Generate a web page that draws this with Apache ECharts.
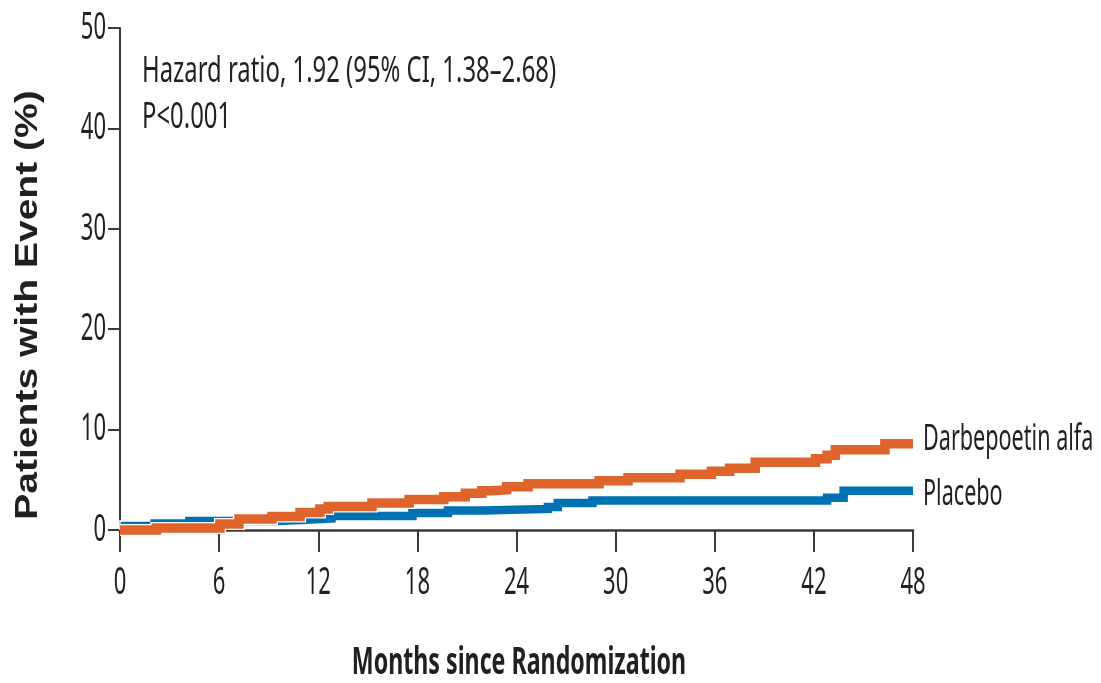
<!DOCTYPE html>
<html>
<head>
<meta charset="utf-8">
<script src="https://cdn.jsdelivr.net/npm/echarts@6/dist/echarts.min.js"></script>
<style>
  html, body { margin: 0; padding: 0; background: #ffffff; }
  #chart { width: 1101px; height: 683px; }
</style>
</head>
<body>
<div id="chart"></div>
<script>
// Axis ticks
const monthTicks = [0, 6, 12, 18, 24, 30, 36, 42, 48];
const percentTicks = [0, 10, 20, 30, 40, 50];

// Cumulative incidence (%) at each event time, step curves
const darbeMonths = [0, 2.2, 6.05, 7.2, 9.2, 10.9, 12.1, 12.6, 15.25, 17.5, 19.6, 20.9, 21.9, 22.5, 23.4, 24.7, 29.0, 30.75, 33.9, 35.8, 36.9, 38.45, 42.1, 42.8, 43.3, 46.3, 48];
const darbePct    = [0, 0.2, 0.6, 1.1, 1.35, 1.75, 2.1, 2.35, 2.7, 3.05, 3.3, 3.65, 3.9, 4.0, 4.3, 4.6, 4.9, 5.2, 5.55, 5.85, 6.15, 6.75, 7.1, 7.45, 8.0, 8.6, 8.6];

const placeboMonths = [0, 0.3, 2.1, 4.2, 9.4, 11.0, 12.8, 17.7, 19.85, 22.0, 25.9, 26.5, 28.6, 42.8, 43.8, 48];
const placeboPct    = [0, 0.4, 0.65, 0.9, 1.0, 1.15, 1.4, 1.7, 1.95, 2.1, 2.3, 2.7, 2.95, 3.2, 3.9, 3.9];

const seriesNames = ['Darbepoetin alfa', 'Placebo'];
const statLines = ['Hazard ratio, 1.92 (95% CI, 1.38\u20132.68)', 'P<0.001'];
const xTitle = 'Months since Randomization';
const yTitle = 'Patients with Event (%)';

const ORANGE = '#DF642B';
const BLUE = '#0071B3';
const AXIS = '#3a3a3a';
const TEXT = '#231f20';
const SANS = "'Noto Sans', 'Liberation Sans', sans-serif";

const pairs = (xs, ys) => xs.map((x, i) => [x, ys[i]]);
const darbeData = pairs(darbeMonths, darbePct);
const placeboData = pairs(placeboMonths, placeboPct);

function stepSeries(name, data, color, width, z, silent) {
  return {
    name: name,
    type: 'line',
    step: 'end',
    data: data,
    showSymbol: false,
    symbol: 'none',
    silent: !!silent,
    z: z,
    animation: false,
    clip: false,
    lineStyle: { color: color, width: width, cap: 'butt', join: 'miter' }
  };
}

const chart = echarts.init(document.getElementById('chart'), null, { renderer: 'canvas' });

chart.setOption({
  backgroundColor: '#ffffff',
  animation: false,
  grid: { left: 120, right: 188, top: 28, bottom: 153, containLabel: false },
  xAxis: {
    type: 'value',
    min: monthTicks[0],
    max: monthTicks[monthTicks.length - 1],
    interval: monthTicks[1] - monthTicks[0],
    splitLine: { show: false },
    axisLine: { show: true, onZero: false, lineStyle: { color: AXIS, width: 2.5 } },
    axisTick: { show: true, inside: false, length: 22, lineStyle: { color: AXIS, width: 2 } },
    axisLabel: { show: false }
  },
  yAxis: {
    type: 'value',
    min: percentTicks[0],
    max: percentTicks[percentTicks.length - 1],
    interval: percentTicks[1] - percentTicks[0],
    splitLine: { show: false },
    axisLine: { show: true, onZero: false, lineStyle: { color: AXIS, width: 2 } },
    axisTick: { show: true, inside: false, length: 12, lineStyle: { color: AXIS, width: 2 } },
    axisLabel: { show: false }
  },
  series: [
    stepSeries('placebo-halo', placeboData, '#ffffff', 11.5, 2, true),
    stepSeries(seriesNames[1], placeboData, BLUE, 8.5, 3),
    stepSeries('darbe-halo', darbeData, '#ffffff', 12, 4, true),
    stepSeries(seriesNames[0], darbeData, ORANGE, 9.5, 5)
  ]
});

// Condensed text, placed in pixel space
function label(text, x, y, o) {
  return {
    type: 'text',
    x: x,
    y: y,
    scaleX: o.scaleX || 1,
    scaleY: o.scaleY || 1,
    rotation: o.rotation || 0,
    silent: true,
    z: 10,
    style: {
      text: text,
      fill: o.color || TEXT,
      fontFamily: o.family || SANS,
      fontSize: o.size,
      fontWeight: o.weight || 'normal',
      textAlign: o.align || 'left',
      align: o.align || 'left',
      textVerticalAlign: 'middle',
      verticalAlign: 'middle'
    }
  };
}

const toPx = (pt) => chart.convertToPixel({ gridIndex: 0 }, pt);
const origin = toPx([monthTicks[0], percentTicks[0]]);

// Tick labels positioned through the axis scales
const xTickLabels = monthTicks.map(m => {
  const p = toPx([m, percentTicks[0]]);
  return label(String(m), p[0], origin[1] + 53, { size: 38, scaleX: 0.58, align: 'center' });
});
const yTickLabels = percentTicks.map(v => {
  const p = toPx([monthTicks[0], v]);
  return label(String(v), origin[0] - 14, p[1], { size: 38, scaleX: 0.58, align: 'right' });
});

const darbeEnd = toPx(darbeData[darbeData.length - 1]);
const placeboEnd = toPx(placeboData[placeboData.length - 1]);

chart.setOption({
  graphic: [
    ...xTickLabels,
    ...yTickLabels,
    label(statLines[0], 142, 71, { size: 37, scaleX: 0.645 }),
    label(statLines[1], 142, 117, { size: 37, scaleX: 0.645 }),
    label(seriesNames[0], darbeEnd[0] + 10, darbeEnd[1] - 4, { size: 36, scaleX: 0.6 }),
    label(seriesNames[1], placeboEnd[0] + 10, placeboEnd[1] + 4, { size: 36, scaleX: 0.6 }),
    label(xTitle, 519, 663, { size: 38, weight: 'bold', scaleX: 0.61, align: 'center' }),
    label(yTitle, 28, 305, { size: 32, weight: 'bold', scaleX: 1.22, rotation: Math.PI / 2, align: 'center', family: "'Liberation Sans', sans-serif" })
  ]
});
</script>
</body>
</html>
